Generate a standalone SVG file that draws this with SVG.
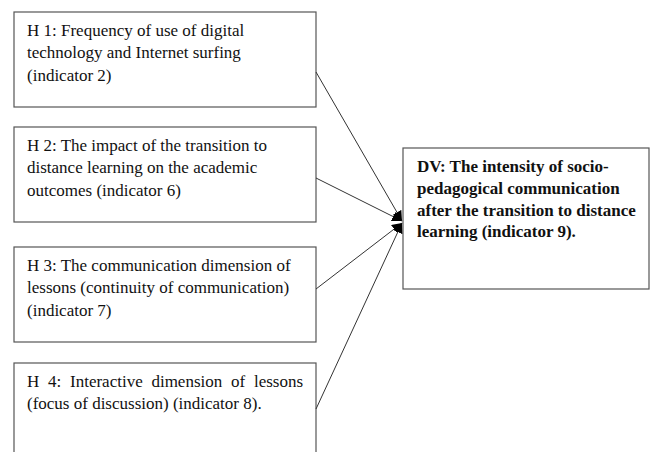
<svg xmlns="http://www.w3.org/2000/svg" width="651" height="452" viewBox="0 0 651 452">
<style>
.box{fill:#fff;stroke:#555;stroke-width:1.2}
.t{font-family:"Liberation Serif","Times New Roman",serif;font-size:17px;fill:#111}
.b{font-weight:bold}
.c{stroke:#333;stroke-width:1;fill:none}
</style>
<defs>
<marker id="ah" viewBox="0 0 10 10" refX="10" refY="5" markerWidth="10" markerHeight="10" markerUnits="userSpaceOnUse" orient="auto">
<path d="M0,0 L10,5 L0,10 z" fill="#000"/>
</marker>
</defs>
<rect width="651" height="452" fill="#fff"/>
<g id="h1">
<rect class="box" x="14" y="12" width="302" height="95"/>
<text class="t" x="27" y="36">H 1: Frequency of use of digital</text>
<text class="t" x="27" y="58">technology and Internet surfing</text>
<text class="t" x="27" y="81">(indicator 2)</text>
</g>
<g id="h2">
<rect class="box" x="14" y="127" width="302" height="95"/>
<text class="t" x="27" y="151">H 2: The impact of the transition to</text>
<text class="t" x="27" y="173">distance learning on the academic</text>
<text class="t" x="27" y="196">outcomes (indicator 6)</text>
</g>
<g id="h3">
<rect class="box" x="14" y="247" width="302" height="95"/>
<text class="t" x="27" y="271">H 3: The communication dimension of</text>
<text class="t" x="27" y="293">lessons (continuity of communication)</text>
<text class="t" x="27" y="316">(indicator 7)</text>
</g>
<g id="h4">
<rect class="box" x="14" y="363" width="302" height="100"/>
<text class="t" x="27" y="387" word-spacing="4.5">H 4: Interactive dimension of lessons</text>
<text class="t" x="27" y="409">(focus of discussion) (indicator 8).</text>
</g>
<g id="dv">
<rect class="box" x="403" y="148" width="246" height="141"/>
<text class="t b" x="417" y="172">DV: The intensity of socio-</text>
<text class="t b" x="417" y="194">pedagogical communication</text>
<text class="t b" x="417" y="216">after the transition to distance</text>
<text class="t b" x="417" y="237">learning (indicator 9).</text>
</g>
<g id="connectors">
<line class="c" x1="316" y1="72" x2="402" y2="221" marker-end="url(#ah)"/>
<line class="c" x1="316" y1="178" x2="402" y2="221" marker-end="url(#ah)"/>
<line class="c" x1="316" y1="289" x2="402" y2="223" marker-end="url(#ah)"/>
<line class="c" x1="316" y1="409" x2="402" y2="223" marker-end="url(#ah)"/>
</g>
</svg>
